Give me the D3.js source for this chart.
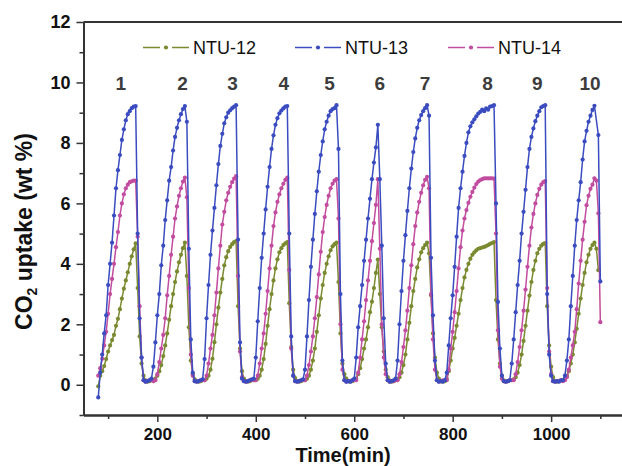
<!DOCTYPE html>
<html>
<head>
<meta charset="utf-8">
<script src="https://cdn.jsdelivr.net/npm/d3@7"></script>
<style>
  body { margin: 0; background: #fff; }
  svg { display: block; }
  text { font-family: "Liberation Sans", Arial, sans-serif; }
</style>
</head>
<body>
<svg id="chart" width="622" height="466"></svg>
<script>
// sampling: one reading every 4 min, from 80 to 1100 min
const startMin = 80;
const stepMin = 4;

// NTU-12 (wt %), one row per cycle
const ntu12 = [
  -0.05, 0.3, 0.45, 0.62, 0.85, 1.1, 1.3, 1.48, 1.65, 1.95, 2.18, 2.5, 2.85, 3.18, 3.45, 3.72, 4.0, 4.25, 4.48, 4.68, 3.2, 1.6, 0.7, 0.3, 0.15, 0.1, 0.12, 0.15,
  0.15, 0.2, 0.3, 0.45, 0.65, 0.95, 1.3, 1.7, 2.15, 2.6, 3.0, 3.4, 3.75, 4.05, 4.3, 4.52, 4.7, 3.6, 1.9, 0.8, 0.35, 0.18, 0.12, 0.1, 0.12, 0.15,
  0.15, 0.2, 0.3, 0.5, 0.86, 1.41, 2.0, 2.55, 3.05, 3.5, 3.95, 4.22, 4.42, 4.56, 4.65, 4.72, 4.75, 2.6, 1.2, 0.45, 0.2, 0.12, 0.1, 0.12, 0.15,
  0.15, 0.15, 0.2, 0.3, 0.5, 0.85, 1.35, 1.95, 2.5, 3.0, 3.45, 3.85, 4.15, 4.38, 4.52, 4.62, 4.68, 4.72, 2.7, 1.25, 0.5, 0.22, 0.12, 0.1, 0.12, 0.15,
  0.15, 0.2, 0.3, 0.5, 0.8, 1.2, 1.75, 2.3, 2.85, 3.3, 3.7, 4.0, 4.25, 4.45, 4.58, 4.65, 4.7, 3.4, 1.7, 0.7, 0.35, 0.2, 0.12, 0.1, 0.12, 0.15,
  0.2, 0.35, 0.55, 0.85, 1.2, 1.5, 1.9, 2.4, 2.75, 3.2, 3.7, 4.14, 3.0, 1.9, 1.1, 0.5, 0.25, 0.15, 0.1, 0.12, 0.15,
  0.18, 0.25, 0.4, 0.65, 1.0, 1.5, 2.05, 2.6, 3.1, 3.5, 3.88, 4.15, 4.38, 4.52, 4.62, 4.7, 4.35, 2.96, 1.7, 0.9, 0.4, 0.2, 0.12, 0.1, 0.12,
  0.2, 0.45, 0.8, 1.2, 1.55, 1.95, 2.35, 2.8, 3.2, 3.55, 3.8, 4.0, 4.17, 4.3, 4.38, 4.45, 4.5, 4.52, 4.54, 4.56, 4.59, 4.62, 4.66, 4.69, 4.72, 2.8, 1.5, 0.7, 0.3, 0.15, 0.1, 0.12, 0.15,
  0.15, 0.18, 0.25, 0.4, 0.65, 1.0, 1.45, 1.95, 2.45, 2.95, 3.4, 3.8, 4.1, 4.35, 4.5, 4.6, 4.66, 4.69, 2.6, 1.3, 0.6, 0.25, 0.12, 0.1, 0.12, 0.15,
  0.15, 0.2, 0.3, 0.45, 0.7, 1.0, 1.4, 1.85, 2.35, 2.85, 3.3, 3.7, 4.05, 4.3, 4.5, 4.62, 4.7, 4.5, 3.79, null
];

// NTU-13 (wt %)
const ntu13 = [
  -0.42, 0.4, 1.0, 1.7, 2.3, 3.3, 4.0, 4.7, 5.6, 6.5, 7.1, 7.6, 8.1, 8.45, 8.75, 8.95, 9.05, 9.15, 9.2, 9.22, 5.0, 2.2, 0.9, 0.15, 0.1, 0.12, 0.15, 0.2,
  0.6, 1.4, 2.3, 3.0, 3.95, 4.6, 5.45, 6.1, 6.75, 7.2, 7.75, 8.2, 8.5, 8.75, 8.95, 9.12, 9.22, 8.7, 4.5, 1.5, 0.4, 0.12, 0.1, 0.12, 0.15, 0.18,
  0.85, 2.2, 3.3, 4.3, 5.1, 5.85, 6.6, 7.3, 7.9, 8.3, 8.65, 8.85, 9.0, 9.08, 9.15, 9.2, 9.25, 4.8, 1.4, 0.2, 0.12, 0.1, 0.12, 0.15, 0.18,
  0.2, 0.9, 2.1, 3.2, 4.2, 5.0, 5.8, 6.55, 7.2, 7.8, 8.25, 8.6, 8.82, 8.98, 9.07, 9.14, 9.2, 9.22, 5.0, 1.6, 0.3, 0.12, 0.1, 0.12, 0.15, 0.18,
  0.5, 1.6, 2.8, 3.9, 4.8, 5.65, 6.4, 7.05, 7.6, 8.05, 8.45, 8.7, 8.9, 9.05, 9.12, 9.15, 9.25, 7.8, 3.0, 0.8, 0.15, 0.1, 0.12, 0.1, 0.15, 0.2,
  0.9, 1.9, 2.6, 3.3, 4.1, 4.8, 5.5, 6.15, 6.8, 7.35, 7.85, 8.6, 6.8, 4.6, 2.2, 0.7, 0.15, 0.1, 0.12, 0.15, 0.2,
  0.8, 2.0, 3.1, 4.1, 4.95, 5.75, 6.5, 7.15, 7.7, 8.15, 8.5, 8.75, 8.92, 9.05, 9.15, 9.25, 8.9, 4.2, 2.3, 0.8, 0.15, 0.1, 0.12, 0.1, 0.15,
  0.4, 1.3, 2.2, 2.96, 3.9, 4.9, 5.85, 6.5, 7.05, 7.57, 8.0, 8.35, 8.55, 8.68, 8.78, 8.88, 8.97, 9.03, 9.1, 9.05, 9.14, 9.1, 9.2, 9.22, 9.25, 6.0, 2.74, 1.2, 0.3, 0.12, 0.1, 0.12, 0.15,
  0.7, 1.5, 2.4, 3.3, 4.1, 5.0, 5.72, 6.45, 7.2, 7.8, 8.2, 8.48, 8.72, 8.9, 9.05, 9.18, 9.22, 9.25, 3.0, 1.0, 0.3, 0.12, 0.1, 0.12, 0.1, 0.15,
  0.15, 0.3, 0.8, 1.5, 2.6, 3.6, 4.6, 5.45, 6.1, 6.7, 7.45, 8.05, 8.4, 8.7, 8.9, 9.09, 9.23, null, 8.26, 3.42
];

// NTU-14 (wt %)
const ntu14 = [
  0.3, 0.55, 0.86, 1.3, 1.75, 2.35, 3.0, 3.5, 4.0, 4.55, 5.05, 5.6, 6.0, 6.3, 6.5, 6.62, 6.7, 6.73, 6.75, 6.75, 4.9, 2.6, 0.9, 0.15, 0.1, 0.12, 0.15, 0.15,
  0.12, 0.15, 0.35, 0.75, 1.2, 1.65, 2.2, 2.96, 3.6, 4.3, 4.9, 5.5, 5.9, 6.25, 6.5, 6.72, 6.85, 6.2, 3.2, 1.0, 0.3, 0.12, 0.1, 0.12, 0.15, 0.15,
  0.15, 0.3, 0.7, 1.2, 1.65, 2.3, 3.05, 3.85, 4.6, 5.3, 5.72, 6.1, 6.35, 6.55, 6.7, 6.82, 6.9, 3.6, 1.1, 0.25, 0.12, 0.1, 0.12, 0.15, 0.15,
  0.15, 0.15, 0.3, 0.7, 1.2, 1.7, 2.35, 3.1, 3.85, 4.6, 5.25, 5.7, 6.05, 6.3, 6.5, 6.65, 6.78, 6.85, 3.8, 1.2, 0.3, 0.12, 0.1, 0.12, 0.15, 0.15,
  0.15, 0.3, 0.65, 1.1, 1.6, 2.2, 2.9, 3.65, 4.4, 5.05, 5.55, 5.95, 6.25, 6.5, 6.65, 6.75, 6.8, 5.5, 2.0, 0.5, 0.15, 0.1, 0.12, 0.12, 0.15, 0.15,
  0.15, 0.4, 0.9, 1.5, 2.1, 2.8, 3.45, 4.1, 4.75, 5.35, 5.95, 6.8, 4.5, 2.0, 0.9, 0.35, 0.15, 0.1, 0.12, 0.12, 0.15,
  0.15, 0.35, 0.75, 1.25, 1.8, 2.45, 3.2, 3.95, 4.65, 5.25, 5.7, 6.05, 6.35, 6.6, 6.78, 6.88, 6.5, 3.0, 1.5, 0.5, 0.15, 0.1, 0.12, 0.15, 0.15,
  0.15, 0.5, 1.2, 1.75, 2.4, 3.1, 3.85, 4.55, 5.1, 5.5, 5.78, 6.02, 6.22, 6.38, 6.52, 6.64, 6.72, 6.77, 6.8, 6.83, 6.83, 6.83, 6.83, 6.83, 6.82, 5.0, 1.8, 0.6, 0.2, 0.12, 0.1, 0.12, 0.15,
  0.15, 0.15, 0.35, 0.75, 1.25, 1.8, 2.45, 3.15, 3.9, 4.6, 5.2, 5.65, 6.0, 6.28, 6.48, 6.62, 6.7, 6.74, 3.2, 1.1, 0.35, 0.12, 0.1, 0.12, 0.12, 0.15,
  0.12, 0.15, 0.25, 0.5, 0.9, 1.3, 1.75, 2.5, 3.35, 4.1, 4.8, 5.39, 5.94, 6.25, 6.48, 6.62, 6.83, 6.75, 5.67, 2.07
];

const seriesNames = ["NTU-12", "NTU-13", "NTU-14"];
const seriesColors = ["#7a8a30", "#3a4cbf", "#c24c9f"];

const cycleLabels = ["1", "2", "3", "4", "5", "6", "7", "8", "9", "10"];
const cycleLabelTimes = [126, 251, 353, 457, 550, 652, 744, 871, 972, 1079];

const xMajorTicks = [200, 400, 600, 800, 1000];
const xMinorTicks = [100, 300, 500, 700, 900, 1100];
const yMajorTicks = [0, 2, 4, 6, 8, 10, 12];
const yMinorTicks = [-1, 1, 3, 5, 7, 9, 11];

const svg = d3.select("#chart");
const plotLeft = 83.5, plotRight = 622, plotTop = 22, plotBottom = 415;

const x = d3.scaleLinear().domain([50, 1144]).range([plotLeft, plotRight]);
const y = d3.scaleLinear().domain([-1, 12]).range([plotBottom, plotTop]);

const times = d3.range(ntu13.length).map(i => startMin + i * stepMin);

// axes
svg.append("g").attr("transform", `translate(0,${plotBottom})`)
  .call(d3.axisBottom(x).tickValues(xMinorTicks).tickSize(4).tickSizeOuter(0).tickFormat(""));
const xAxis = svg.append("g").attr("transform", `translate(0,${plotBottom})`)
  .call(d3.axisBottom(x).tickValues(xMajorTicks).tickSize(7).tickSizeOuter(0).tickPadding(6)
    .tickFormat(d3.format("d")));
svg.append("g").attr("transform", `translate(${plotLeft},0)`)
  .call(d3.axisLeft(y).tickValues(yMinorTicks).tickSize(4).tickSizeOuter(0).tickFormat(""));
svg.append("g").attr("transform", `translate(${plotLeft},0)`)
  .call(d3.axisLeft(y).tickValues(yMajorTicks).tickSize(7).tickSizeOuter(0).tickPadding(6));

svg.selectAll(".domain").attr("stroke", "#333").attr("stroke-width", 2);
svg.selectAll(".tick line").attr("stroke", "#333").attr("stroke-width", 1.5);
svg.selectAll(".tick text")
  .attr("font-family", '"Liberation Sans", Arial, sans-serif')
  .attr("font-size", 18).attr("font-weight", "bold").attr("fill", "#111");
xAxis.selectAll(".tick text").attr("font-size", 17);

// top frame line
svg.append("line")
  .attr("x1", plotLeft).attr("x2", plotRight).attr("y1", plotTop).attr("y2", plotTop)
  .attr("stroke", "#333").attr("stroke-width", 2);

// data
const line = d3.line().x(d => x(d.t)).y(d => y(d.v));
const drawOrder = [0, 2, 1];
const allSeries = [ntu12, ntu13, ntu14];

drawOrder.forEach(k => {
  const pts = allSeries[k].map((v, i) => ({ t: times[i], v: v })).filter(d => d.v !== null);
  const g = svg.append("g");
  g.append("path").datum(pts)
    .attr("d", line)
    .attr("fill", "none")
    .attr("stroke", seriesColors[k])
    .attr("stroke-width", 1.5)
    .attr("stroke-linejoin", "round");
  g.selectAll("circle").data(pts).join("circle")
    .attr("cx", d => x(d.t))
    .attr("cy", d => y(d.v))
    .attr("r", 2.1)
    .attr("fill", seriesColors[k]);
});

// cycle numbers
svg.selectAll(".cycle").data(cycleLabels).join("text")
  .attr("class", "cycle")
  .attr("x", (d, i) => x(cycleLabelTimes[i]))
  .attr("y", 89.5)
  .attr("text-anchor", "middle")
  .attr("font-size", 19).attr("font-weight", "bold").attr("fill", "#3c3c3c")
  .text(d => d);

// legend
const legendX = [143, 295, 448];
seriesNames.forEach((name, k) => {
  const g = svg.append("g").attr("transform", `translate(${legendX[k]},47.5)`);
  g.append("line").attr("x1", 0).attr("x2", 17).attr("stroke", seriesColors[k]).attr("stroke-width", 1.5);
  g.append("line").attr("x1", 29).attr("x2", 46).attr("stroke", seriesColors[k]).attr("stroke-width", 1.5);
  g.append("circle").attr("cx", 23).attr("r", 2.1).attr("fill", seriesColors[k]);
  g.append("text").attr("x", 50).attr("y", 6.5)
    .attr("font-size", 18).attr("fill", "#111").text(name);
});

// axis titles
svg.append("text")
  .attr("x", 343).attr("y", 462)
  .attr("text-anchor", "middle")
  .attr("font-size", 20).attr("font-weight", "bold").attr("fill", "#111")
  .text("Time(min)");

const yt = svg.append("text")
  .attr("transform", "translate(32,231.5) rotate(-90)")
  .attr("text-anchor", "middle")
  .attr("font-size", 23).attr("font-weight", "bold").attr("fill", "#111");
yt.append("tspan").text("CO");
yt.append("tspan").attr("font-size", 14).attr("dy", 5).text("2");
yt.append("tspan").attr("dy", -5).text(" uptake (wt %)");
</script>
</body>
</html>
